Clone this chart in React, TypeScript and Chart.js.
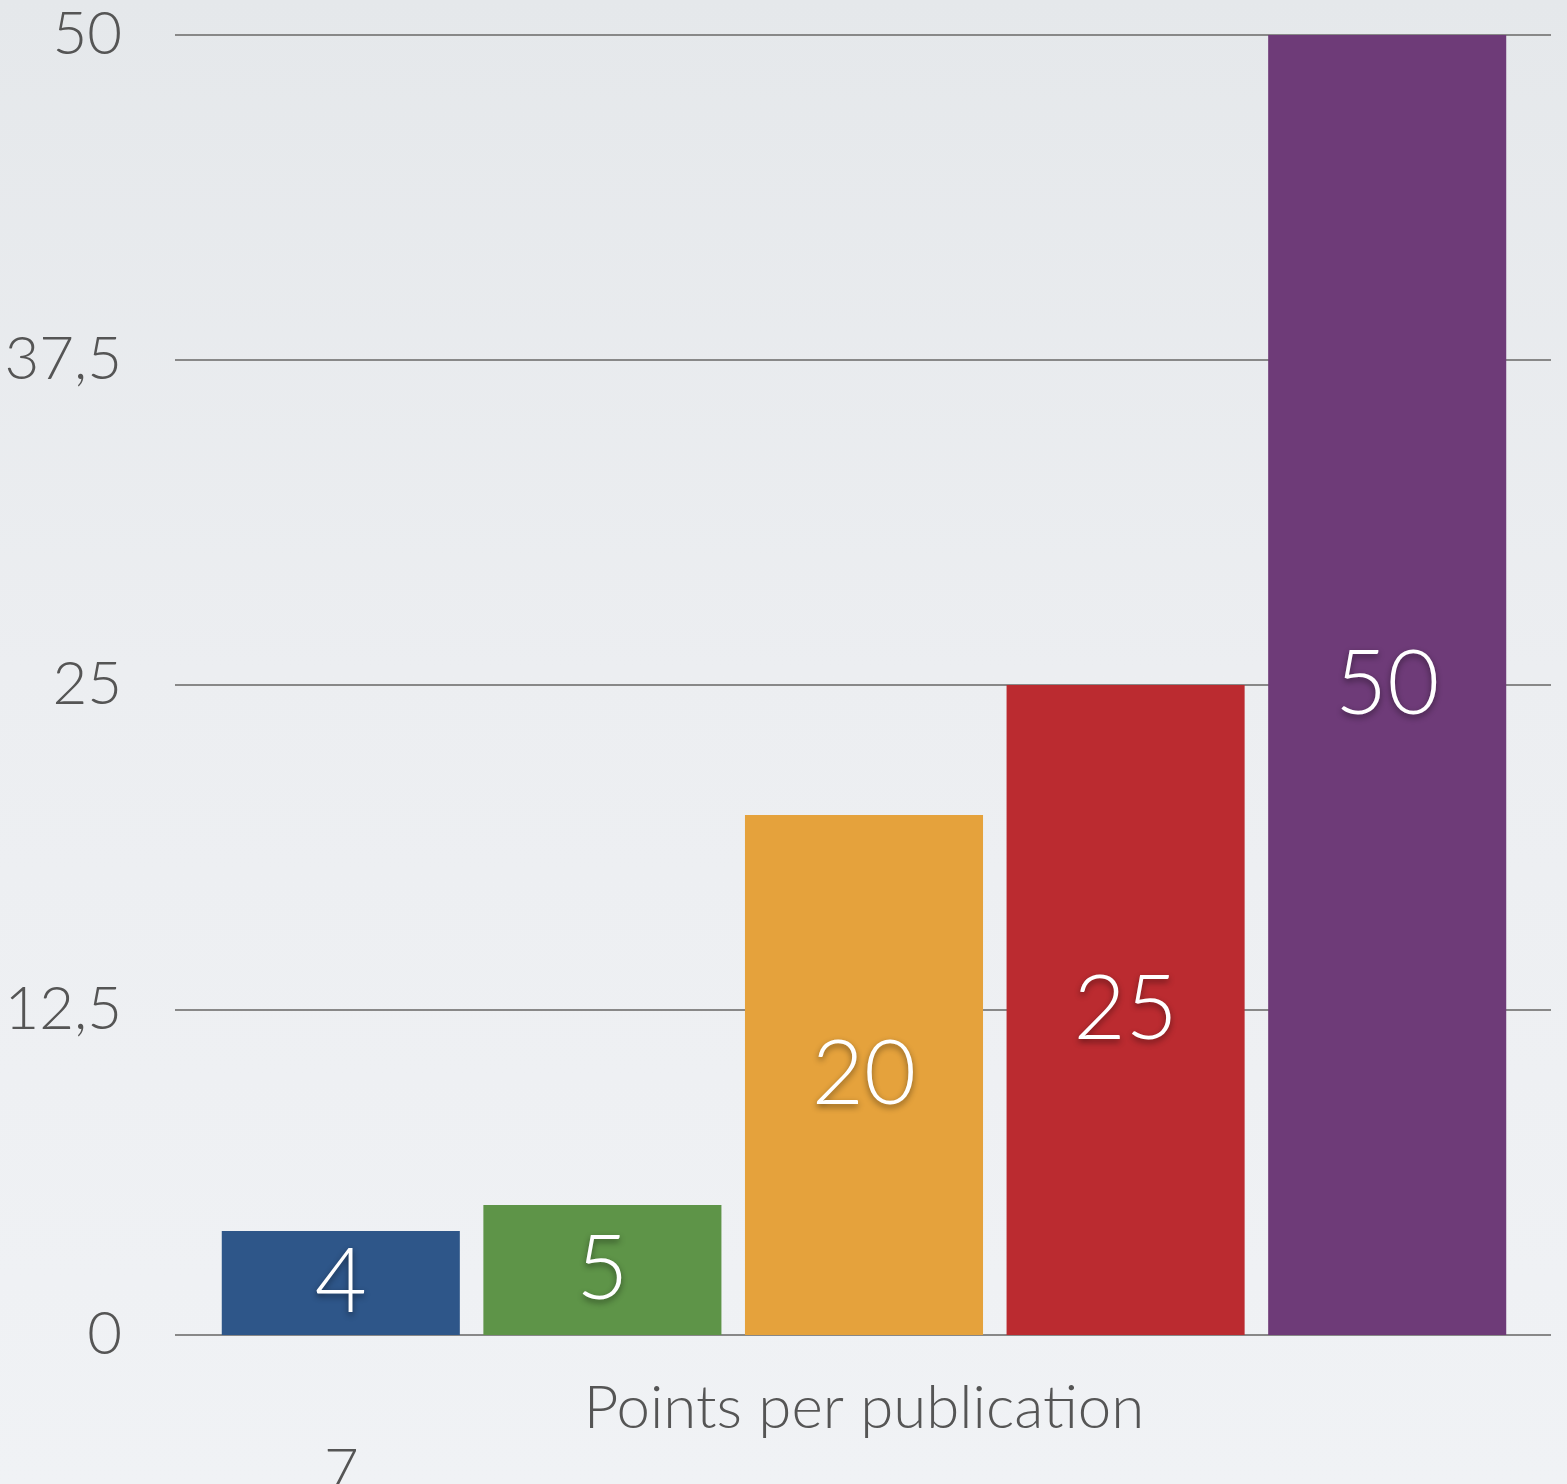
import React, { useEffect, useRef } from "react";
import { Chart, registerables } from "chart.js";

Chart.register(...registerables);

const categories = ["A", "B", "C", "D", "E"];
const values = [4, 5, 20, 25, 50];
const barColors = ["#2e5689", "#5e9448", "#e5a23c", "#bb2b30", "#6e3b78"];
const yTicks = [0, 12.5, 25, 37.5, 50];
const xTitle = "Points per publication";
const pageNumber = "7";

const FONT = "Lato, 'Open Sans', sans-serif";

const gridPlugin = {
  id: "extGrid",
  beforeDatasetsDraw(chart: any) {
    const { ctx, chartArea, scales } = chart;
    const y = scales.y;
    ctx.save();
    ctx.strokeStyle = "#888888";
    ctx.lineWidth = 2;
    yTicks.forEach((v) => {
      const py = Math.round(y.getPixelForValue(v));
      ctx.beginPath();
      ctx.moveTo(chartArea.left - 35, py);
      ctx.lineTo(chartArea.right + 33, py);
      ctx.stroke();
    });
    ctx.restore();
  },
};

const labelPlugin = {
  id: "barLabels",
  afterDatasetsDraw(chart: any) {
    const { ctx } = chart;
    const meta = chart.getDatasetMeta(0);
    ctx.save();
    ctx.font = `300 90px ${FONT}`;
    ctx.fillStyle = "#ffffff";
    ctx.textAlign = "center";
    ctx.textBaseline = "middle";
    ctx.shadowColor = "rgba(0,0,0,0.45)";
    ctx.shadowBlur = 6;
    ctx.shadowOffsetY = 3;
    meta.data.forEach((bar: any, i: number) => {
      const cy = (bar.y + bar.base) / 2;
      ctx.fillText(String(values[i]), bar.x, cy);
    });
    ctx.restore();
  },
};

export default function App() {
  const ref = useRef<HTMLCanvasElement | null>(null);
  useEffect(() => {
    if (!ref.current) return;
    const chart = new Chart(ref.current, {
      type: "bar",
      data: {
        labels: categories,
        datasets: [
          {
            data: values,
            backgroundColor: barColors,
            borderWidth: 0,
            barPercentage: 0.91,
            categoryPercentage: 1,
          },
        ],
      },
      options: {
        responsive: false,
        animation: false,
        layout: { padding: { top: 35, right: 49, left: 0, bottom: 0 } },
        plugins: {
          legend: { display: false },
          tooltip: { enabled: false },
        },
        scales: {
          x: {
            grid: { display: false, drawTicks: false },
            border: { display: false },
            ticks: { display: false },
            title: {
              display: true,
              text: xTitle,
              color: "#555555",
              font: { family: FONT, size: 60, weight: "300", lineHeight: 1 },
              padding: { top: 40, bottom: 45 },
            },
            afterFit(s: any) {
              s.height = 149;
            },
          },
          y: {
            min: 0,
            max: 50,
            afterBuildTicks(s: any) {
              s.ticks = yTicks.map((v) => ({ value: v }));
            },
            grid: { display: false, drawTicks: true, tickLength: 88 },
            border: { display: false },
            ticks: {
              color: "#555555",
              font: { family: FONT, size: 60, weight: "300", lineHeight: 1 },
              padding: 0,
              callback: (v: any) => String(v).replace(".", ","),
            },
            afterFit(s: any) {
              s.width = 210;
            },
          },
        },
      },
      plugins: [gridPlugin, labelPlugin],
    });
    return () => chart.destroy();
  }, []);

  return (
    <div
      style={{
        position: "fixed",
        left: 0,
        top: 0,
        width: 1567,
        height: 1484,
        overflow: "hidden",
        background: "linear-gradient(180deg, #e5e8eb 0%, #eceef1 45%, #f0f2f5 100%)",
      }}
    >
      <canvas ref={ref} width={1567} height={1484} style={{ position: "absolute", left: 0, top: 0, width: 1567, height: 1484 }} />
      <div
        style={{
          position: "absolute",
          left: 324,
          top: 1438,
          fontFamily: FONT,
          fontWeight: 300,
          fontSize: 60,
          lineHeight: 1,
          color: "#555555",
        }}
      >
        {pageNumber}
      </div>
    </div>
  );
}
